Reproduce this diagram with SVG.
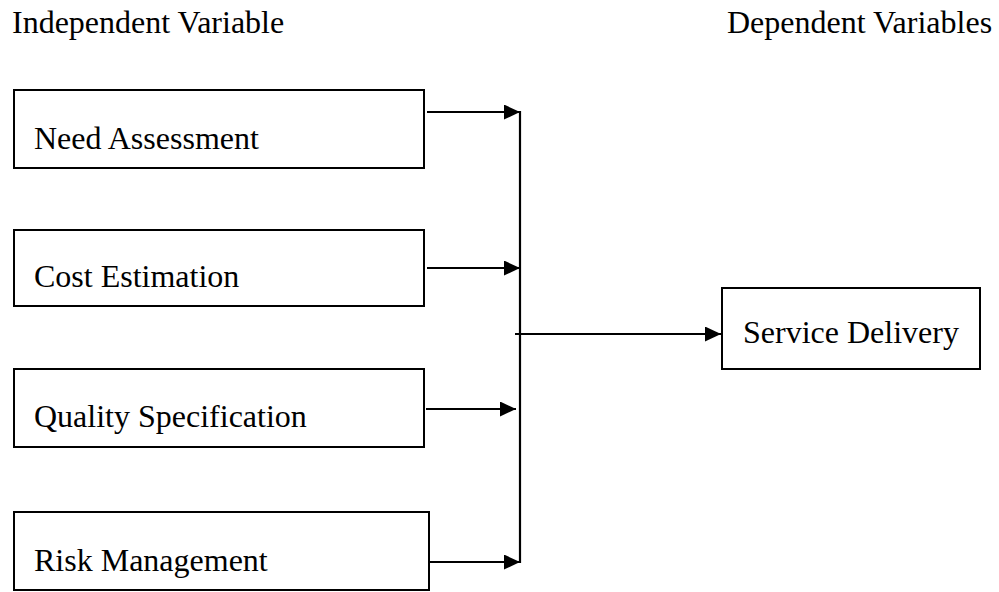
<svg xmlns="http://www.w3.org/2000/svg" width="999" height="592" viewBox="0 0 999 592">
  <style>
    .box { fill: #ffffff; stroke: #000000; stroke-width: 2; }
    .lbl { font-family: "Liberation Serif", "Times New Roman", serif; font-size: 32px; fill: #000000; }
    .conn { stroke: #000000; stroke-width: 2.2; fill: none; }
  </style>
  <defs>
    <marker id="arrow" markerUnits="userSpaceOnUse" markerWidth="16" markerHeight="15" refX="16" refY="7.5" orient="auto">
      <path d="M0,0 L16,7.5 L0,15 Z" fill="#000000"/>
    </marker>
  </defs>
  <rect width="999" height="592" fill="#ffffff"/>

  <text class="lbl" x="12" y="33">Independent Variable</text>
  <text class="lbl" x="727" y="33">Dependent Variables</text>

  <g id="need-assessment">
    <rect class="box" x="14" y="90" width="410" height="78"/>
    <text class="lbl" x="34" y="149">Need Assessment</text>
  </g>
  <g id="cost-estimation">
    <rect class="box" x="14" y="230" width="410" height="76"/>
    <text class="lbl" x="34" y="287">Cost Estimation</text>
  </g>
  <g id="quality-specification">
    <rect class="box" x="14" y="369" width="410" height="78"/>
    <text class="lbl" x="34" y="427">Quality Specification</text>
  </g>
  <g id="risk-management">
    <rect class="box" x="14" y="512" width="415" height="78"/>
    <text class="lbl" x="34" y="571">Risk Management</text>
  </g>
  <g id="service-delivery">
    <rect class="box" x="722" y="288" width="258" height="81"/>
    <text class="lbl" x="743" y="343">Service Delivery</text>
  </g>

  <g id="connectors">
    <line class="conn" x1="427" y1="112" x2="520" y2="112" marker-end="url(#arrow)"/>
    <line class="conn" x1="427" y1="268" x2="520" y2="268" marker-end="url(#arrow)"/>
    <line class="conn" x1="426" y1="409" x2="516" y2="409" marker-end="url(#arrow)"/>
    <line class="conn" x1="430" y1="562" x2="520" y2="562" marker-end="url(#arrow)"/>
    <line class="conn" x1="520" y1="111" x2="520" y2="563"/>
    <line class="conn" x1="515" y1="334" x2="721" y2="334" marker-end="url(#arrow)"/>
  </g>
</svg>
